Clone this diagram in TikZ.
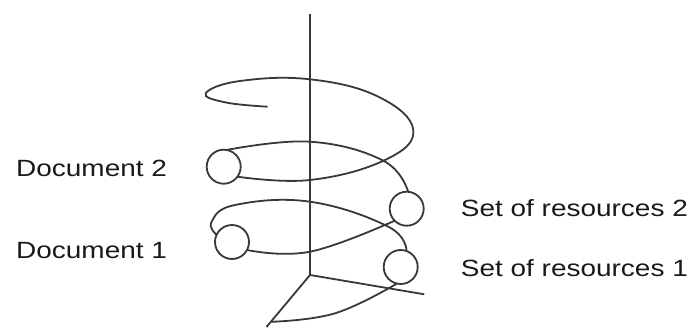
\documentclass[tikz,border=0pt]{standalone}
\usepackage{fontspec}
\newfontfamily\lblfont[FakeStretch=1.19]{Liberation Sans}
\usetikzlibrary{calc}
\begin{document}
\begin{tikzpicture}[x=1pt,y=-1pt,
  ln/.style={line width=1.8pt,draw=black!78},
  res/.style={circle,ln,minimum size=34pt,inner sep=0pt,outer sep=0pt},
  lbl/.style={anchor=base west,inner sep=0pt,font=\lblfont\fontsize{23.5}{28}\selectfont,text=black!90}]
\useasboundingbox (0,0) rectangle (691,327);
% axes
\coordinate (o) at (310,275);
\coordinate (za) at (310,14);
\coordinate (xa) at (424.3,294.3);
\coordinate (ya) at (266.5,327);
\draw[ln] (o) -- (za);
\draw[ln] (o) -- (xa);
\draw[ln] (o) -- (ya);
% circles
\node[res] (d2) at (223.7,166.7) {};
\node[res] (r2) at (406.7,208.7) {};
\node[res] (d1) at (232,242) {};
\node[res] (r1) at (400.7,267) {};
% labels
\node[lbl] (t2) at (16,176.7) {Document 2};
\node[lbl] (t1) at (16,258.3) {Document 1};
\node[lbl] (s2) at (460.7,216.7) {Set of resources 2};
\node[lbl] (s1) at (460.7,276.7) {Set of resources 1};
% spiral
\coordinate (st) at (267.7,106.7);
\coordinate (bt) at ($(o)!0.9!(ya)$);
\draw[ln] plot[smooth,tension=0.7] coordinates {(st) (226,102.5) (205.7,93.3) (240,81) (310,79.3) (378.3,96.7) (413.3,130) (385,160) (310,180) (d2.-36)};
\draw[ln] plot[smooth,tension=0.7] coordinates {(d2.80) (310,141.7) (383.3,160.7) (r2.85)};
\draw[ln] plot[smooth,tension=0.7] coordinates {(r2.225) (310,251.7) (d1.-28)};
\draw[ln] plot[smooth,tension=0.7] coordinates {(d1.155) (211.5,222) (235,205) (310,201.7) (388.3,226.7) (r1.70)};
\draw[ln] plot[smooth,tension=0.7] coordinates {(r1.-103) (335,313.3) (bt)};
\end{tikzpicture}
\end{document}
